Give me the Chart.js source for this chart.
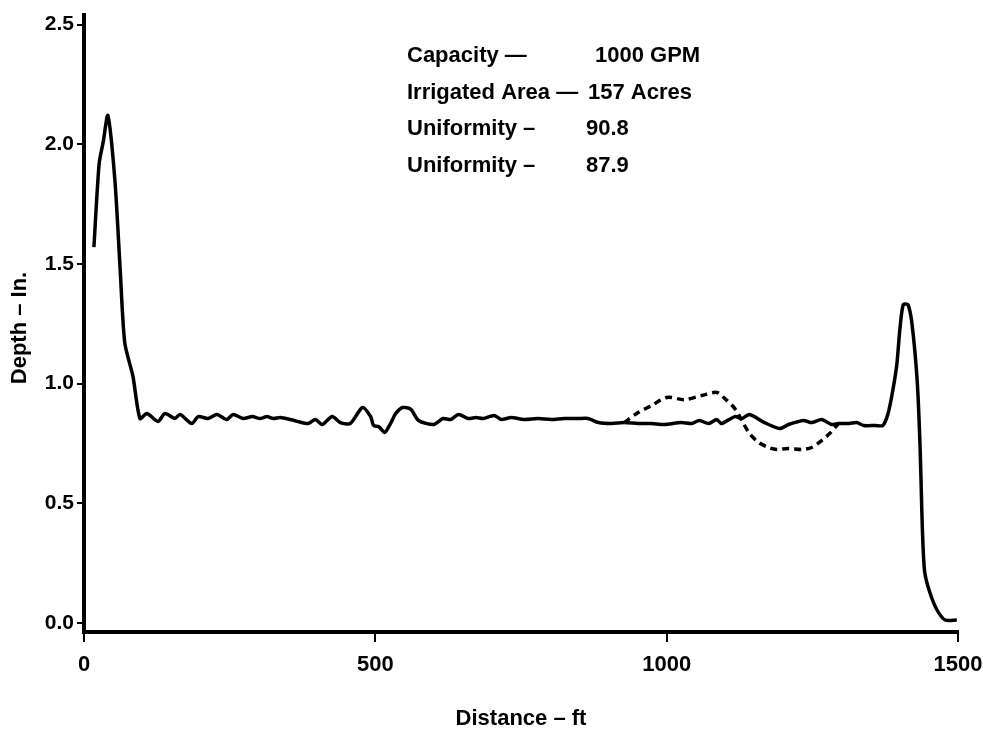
<!DOCTYPE html>
<html>
<head>
<meta charset="utf-8">
<script src="https://cdn.jsdelivr.net/npm/chart.js@4/dist/chart.umd.min.js"></script>
<style>
  body { margin: 0; background: #fff; }
  #wrap { width: 983px; height: 730px; position: relative; }
</style>
</head>
<body>
<div id="wrap"><canvas id="depthChart"></canvas></div>
<script>
// Distance (ft) / depth (in.)
const solidDist = [17, 26, 33, 41, 53, 62, 70, 84, 96, 108, 127, 139, 156, 165, 185, 196, 213, 228, 245, 256,
  273, 289, 302, 314, 325, 337, 354, 366, 385, 397, 409, 426, 440, 457, 478, 492, 497, 506, 516, 526,
  535, 547, 561, 574, 600, 616, 629, 643, 659, 673, 685, 704, 716, 733, 755, 779, 802, 824, 848, 865,
  883, 905, 927, 951, 974, 996, 1025, 1043, 1056, 1072, 1086, 1094, 1117, 1129, 1142, 1168, 1194, 1209, 1235, 1249,
  1266, 1283, 1295, 1313, 1326, 1338, 1358, 1371, 1380, 1388, 1395, 1400, 1406, 1414, 1421, 1430, 1435, 1438, 1440, 1443,
  1452, 1464, 1478, 1498];
const solidDepth = [1.57, 1.92, 2.01, 2.12, 1.85, 1.48, 1.17, 1.03, 0.854, 0.875, 0.842, 0.875, 0.854, 0.871, 0.833, 0.862, 0.854, 0.871, 0.85, 0.871,
  0.854, 0.862, 0.854, 0.862, 0.854, 0.858, 0.85, 0.842, 0.833, 0.85, 0.829, 0.862, 0.837, 0.833, 0.9, 0.862, 0.825, 0.82, 0.796, 0.833,
  0.875, 0.9, 0.892, 0.846, 0.829, 0.854, 0.85, 0.871, 0.854, 0.858, 0.854, 0.867, 0.85, 0.858, 0.85, 0.854, 0.85, 0.854, 0.854, 0.854,
  0.837, 0.833, 0.837, 0.833, 0.833, 0.829, 0.837, 0.833, 0.846, 0.833, 0.85, 0.833, 0.862, 0.854, 0.871, 0.837, 0.812, 0.829, 0.846, 0.837,
  0.85, 0.829, 0.833, 0.833, 0.837, 0.825, 0.825, 0.825, 0.875, 0.97, 1.08, 1.22, 1.33, 1.33, 1.25, 1.01, 0.73, 0.46, 0.32, 0.21,
  0.125, 0.054, 0.012, 0.012];

const dashDist = [927, 951, 974, 1000, 1031, 1060, 1086, 1100, 1117, 1129, 1142, 1158, 1175, 1189, 1209, 1232, 1249, 1266, 1280, 1295];
const dashDepth = [0.837, 0.879, 0.908, 0.942, 0.933, 0.95, 0.963, 0.937, 0.896, 0.846, 0.792, 0.754, 0.733, 0.725, 0.729, 0.725, 0.733, 0.762, 0.792, 0.833];

const xTicks = [0, 500, 1000, 1500];
const yTicks = [0.0, 0.5, 1.0, 1.5, 2.0, 2.5];

const notesLeft = ['Capacity \u2014', 'Irrigated Area \u2014', 'Uniformity \u2013', 'Uniformity \u2013'];
const notesRight = ['1000 GPM', '157 Acres', '90.8', '87.9'];

const FONT = "'Liberation Sans', Arial, sans-serif";

function toPoints(xs, ys) {
  return xs.map((x, i) => ({ x: x, y: ys[i] }));
}

// axis titles and the text block in the upper middle
const textPlugin = {
  id: 'textPlugin',
  afterDraw(chart) {
    const ctx = chart.ctx;
    const area = chart.chartArea;
    ctx.save();
    ctx.fillStyle = '#000';
    ctx.font = 'bold 22px ' + FONT;

    ctx.textAlign = 'center';
    ctx.textBaseline = 'alphabetic';
    ctx.fillText('Distance \u2013 ft', (area.left + area.right) / 2, 725);

    ctx.save();
    ctx.translate(26, 328);
    ctx.rotate(-Math.PI / 2);
    ctx.fillText('Depth \u2013 In.', 0, 0);
    ctx.restore();

    ctx.textAlign = 'left';
    const rightX = [595, 588, 586, 586];
    notesLeft.forEach((t, i) => {
      const yb = 62 + i * 36.5;
      ctx.fillText(t, 407, yb);
      ctx.fillText(notesRight[i], rightX[i], yb);
    });
    ctx.restore();
  }
};

const axisStyle = {
  border: { color: '#000', width: 4 },
  grid: { drawOnChartArea: false, color: '#000', lineWidth: 2 },
};

new Chart(document.getElementById('depthChart'), {
  type: 'line',
  data: {
    datasets: [
      {
        data: toPoints(solidDist, solidDepth),
        borderColor: '#000',
        borderWidth: 3.5,
        tension: 0.25,
        pointRadius: 0,
        fill: false,
      },
      {
        data: toPoints(dashDist, dashDepth),
        borderColor: '#000',
        borderWidth: 3.5,
        borderDash: [7, 5],
        tension: 0.3,
        pointRadius: 0,
        fill: false,
      },
    ],
  },
  options: {
    responsive: true,
    maintainAspectRatio: false,
    animation: false,
    layout: { padding: { top: 15, right: 25, left: 0, bottom: 0 } },
    plugins: { legend: { display: false }, tooltip: { enabled: false } },
    scales: {
      x: {
        type: 'linear',
        min: 0,
        max: 1500,
        afterBuildTicks: s => { s.ticks = xTicks.map(v => ({ value: v })); },
        afterFit: s => { s.height = 98; s.paddingLeft = 0; s.paddingRight = 0; },
        border: axisStyle.border,
        grid: Object.assign({ tickLength: 10 }, axisStyle.grid),
        ticks: {
          color: '#000',
          padding: 10,
          maxRotation: 0,
          font: { family: FONT, size: 22, weight: 'bold' },
          callback: v => String(v),
        },
      },
      y: {
        min: -0.038,
        max: 2.54,
        afterBuildTicks: s => { s.ticks = yTicks.map(v => ({ value: v })); },
        afterFit: s => { s.width = 84; s.paddingTop = 0; s.paddingBottom = 0; },
        border: axisStyle.border,
        grid: Object.assign({ tickLength: 7 }, axisStyle.grid),
        ticks: {
          color: '#000',
          padding: 3,
          font: { family: FONT, size: 21, weight: 'bold' },
          callback: v => v.toFixed(1),
        },
      },
    },
  },
  plugins: [textPlugin],
});
</script>
</body>
</html>
